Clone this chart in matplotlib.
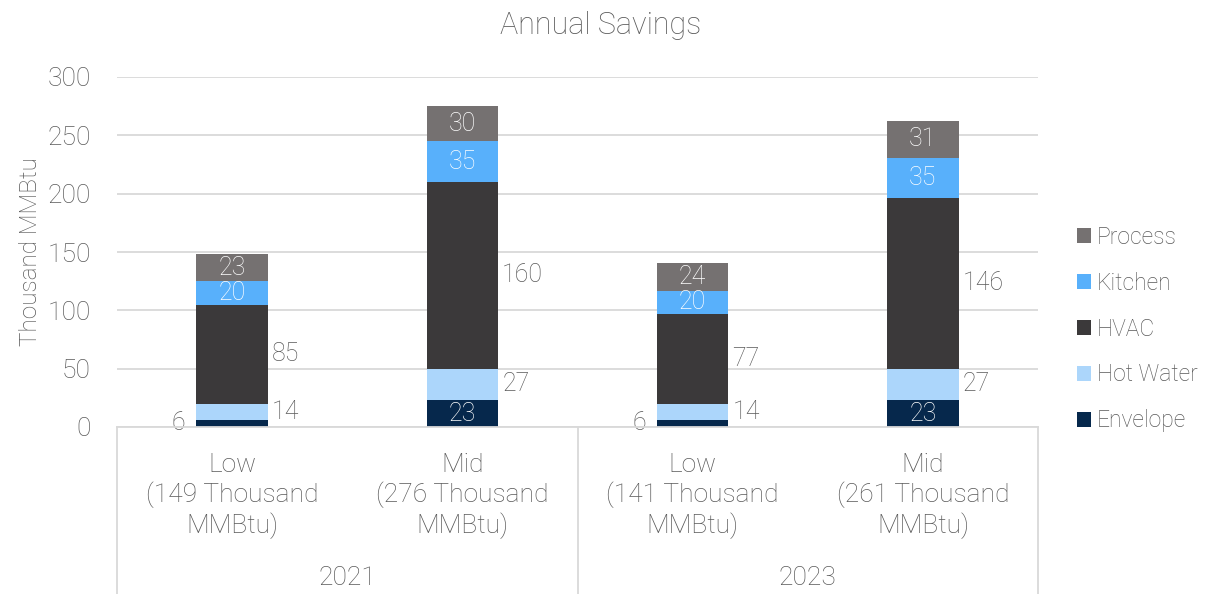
import matplotlib
matplotlib.use("Agg")
import matplotlib.pyplot as plt
import numpy as np
from matplotlib.patches import Patch

plt.rcParams['font.family'] = ['Roboto', 'Open Sans', 'DejaVu Sans']

years = ["2021", "2023"]
scenarios = ["Low\n(149 Thousand\nMMBtu)", "Mid\n(276 Thousand\nMMBtu)",
             "Low\n(141 Thousand\nMMBtu)", "Mid\n(261 Thousand\nMMBtu)"]
envelope = [6, 23, 6, 23]
hot_water = [14, 27, 14, 27]
hvac = [85, 160, 77, 146]
kitchen = [20, 35, 20, 35]
process = [23, 30, 24, 31]

series = [("Envelope", envelope, "#06284c"),
          ("Hot Water", hot_water, "#acd6fb"),
          ("HVAC", hvac, "#3b393a"),
          ("Kitchen", kitchen, "#58b0fb"),
          ("Process", process, "#757171")]

TXT = "#595959"
W = "light"

fig = plt.figure(figsize=(12.06, 5.94), dpi=100)
ax = fig.add_axes([117/1206, 1 - 427/594, (1038-117)/1206, 350/594])

x = np.arange(len(scenarios))
bw = 0.31
bottom = np.zeros(len(scenarios))
handles = []
for name, vals, col in series:
    vals = np.array(vals, dtype=float)
    ax.bar(x, vals, bw, bottom=bottom, color=col, zorder=3)
    for i, v in enumerate(vals):
        yc = bottom[i] + v / 2
        if name in ("Hot Water", "HVAC"):
            ax.annotate(f"{int(v)}", (x[i] + bw/2, yc), xytext=(3, 0), textcoords="offset points",
                        ha="left", va="center", fontsize=18, color=TXT, fontweight=W)
        elif name == "Envelope" and v < 10:
            ax.annotate(f"{int(v)}", (x[i] - bw/2, yc), xytext=(-8, 0), textcoords="offset points",
                        ha="right", va="center", fontsize=18, color=TXT, fontweight=W)
        else:
            ax.text(x[i], yc, f"{int(v)}", ha="center", va="center", fontsize=18,
                    color="white", fontweight=W, zorder=4)
    bottom += vals
    handles.append(Patch(facecolor=col, label=name))

ax.set_xlim(-0.5, 3.5)
ax.set_ylim(0, 300)
ax.set_yticks(np.arange(0, 301, 50))
ax.yaxis.grid(True, color="#d9d9d9", linewidth=1.3, zorder=0)
ax.set_axisbelow(True)
for s in ax.spines.values():
    s.set_visible(False)
ax.tick_params(axis="y", length=0, labelsize=19, labelcolor=TXT, pad=19)
for lab in ax.get_yticklabels():
    lab.set_fontweight(W)
ax.set_xticks([])
ax.set_ylabel("Thousand MMBtu", fontsize=17.5, color=TXT, fontweight=W, labelpad=4)
fig.text(601/1206, 1 - 26/594, "Annual Savings", ha="center", va="center",
         fontsize=22, color=TXT, fontweight=W)

# multi-level category axis
tr = ax.get_xaxis_transform()
ax.plot([-0.5, 3.5], [0, 0], transform=tr, color="#d9d9d9", lw=1.3, clip_on=False, zorder=5)
for xv in [-0.5, 1.5, 3.5]:
    ax.plot([xv, xv], [0, -0.5], transform=tr, color="#d9d9d9", lw=1.3, clip_on=False)
for i, lab in enumerate(scenarios):
    ax.text(x[i], -0.197, lab, transform=tr, ha="center", va="center", fontsize=19,
            color=TXT, fontweight=W, linespacing=1.2)
for j, yr in enumerate(years):
    ax.text(0.5 + 2*j, -0.432, yr, transform=tr, ha="center", va="center", fontsize=19,
            color=TXT, fontweight=W)

leg = fig.legend(handles=handles[::-1], loc="center left", bbox_to_anchor=(1066/1206, 1 - 329/594),
                 frameon=False, fontsize=16.5, labelspacing=1.0, handlelength=0.6, handleheight=0.6,
                 handletextpad=0.25, borderpad=0)
for t in leg.get_texts():
    t.set_color(TXT)
    t.set_fontweight(W)

fig.savefig("out.png", dpi=100)
